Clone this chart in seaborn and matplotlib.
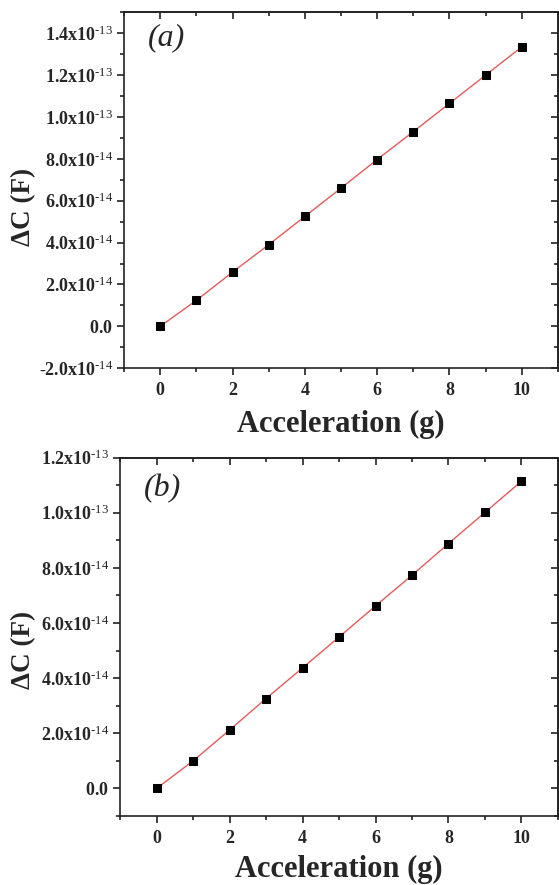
import numpy as np
import pandas as pd
import matplotlib
matplotlib.use("Agg")
import matplotlib.pyplot as plt
import seaborn as sns
from matplotlib.ticker import MultipleLocator, FuncFormatter

# data (capacitance change in units of 1e-14 F)
ACCEL = [0, 1, 2, 3, 4, 5, 6, 7, 8, 9, 10]
DC_A = [0.0, 1.24, 2.59, 3.90, 5.25, 6.60, 7.97, 9.30, 10.65, 12.0, 13.35]
DC_B = [0.0, 1.00, 2.12, 3.26, 4.37, 5.49, 6.62, 7.73, 8.88, 10.01, 11.14]
PANEL_LABELS = ["(a)", "(b)"]

LINE_RED = "#e35b5b"
AXIS_COLOR = "#222222"

sns.set_style("ticks")
plt.rcParams["font.family"] = ["Liberation Serif", "DejaVu Serif"]
plt.rcParams["mathtext.fontset"] = "custom"
plt.rcParams["mathtext.rm"] = "Liberation Serif"
plt.rcParams["mathtext.it"] = "Liberation Serif:italic"
plt.rcParams["mathtext.bf"] = "Liberation Serif:bold"


def sci_label(v, pos):
    if abs(v) < 1e-20:
        return r"$\mathbf{0.0}$"
    exp = int(np.floor(np.log10(abs(v)) + 1e-9))
    mant = v / 10.0 ** exp
    sign = r"\text{-}" if mant < 0 else ""
    return r"$%s\mathbf{%.1fx10}^{\text{-}%d}$" % (sign, abs(mant), abs(exp))


def draw_panel(ax, y, ylim, label, label_y, xlabelpad):
    df = pd.DataFrame({"Acceleration": ACCEL, "dC": np.array(y) * 1e-14})
    sns.lineplot(data=df, x="Acceleration", y="dC", ax=ax, color=LINE_RED,
                 linewidth=1.0, marker="s", markersize=5.5,
                 markerfacecolor="black", markeredgecolor="black")
    ax.set_xlim(-1, 11)
    ax.set_ylim(*ylim)
    ax.xaxis.set_major_locator(MultipleLocator(2))
    ax.xaxis.set_minor_locator(MultipleLocator(1))
    ax.yaxis.set_major_locator(MultipleLocator(2e-14))
    ax.yaxis.set_minor_locator(MultipleLocator(1e-14))
    ax.yaxis.set_major_formatter(FuncFormatter(sci_label))
    ax.tick_params(which="major", length=5, width=1.2, color=AXIS_COLOR)
    ax.tick_params(which="minor", length=3, width=1.2, color=AXIS_COLOR)
    ax.tick_params(axis="y", labelsize=13, pad=3)
    ax.tick_params(axis="x", labelsize=13, pad=5)
    for t in ax.get_xticklabels():
        t.set_fontweight("bold")
    for s in ax.spines.values():
        s.set_visible(True)
        s.set_linewidth(1.2)
        s.set_color(AXIS_COLOR)

    # mirrored ticks pointing inward on top and right
    top = ax.secondary_xaxis("top")
    top.xaxis.set_major_locator(MultipleLocator(2))
    top.xaxis.set_minor_locator(MultipleLocator(1))
    top.tick_params(which="both", direction="in", labeltop=False, width=1.2, color=AXIS_COLOR)
    top.tick_params(which="major", length=5)
    top.tick_params(which="minor", length=3)
    right = ax.secondary_yaxis("right")
    right.yaxis.set_major_locator(MultipleLocator(2e-14))
    right.yaxis.set_minor_locator(MultipleLocator(1e-14))
    right.tick_params(which="both", direction="in", labelright=False, width=1.2, color=AXIS_COLOR)
    right.tick_params(which="major", length=5)
    right.tick_params(which="minor", length=3)
    for sec in (top, right):
        for s in sec.spines.values():
            s.set_linewidth(1.2)
            s.set_color(AXIS_COLOR)

    ax.set_xlabel("Acceleration (g)", fontsize=22, fontweight="bold", labelpad=xlabelpad)
    ax.set_ylabel("ΔC (F)", fontsize=19.5, fontweight="bold", va="center")
    ax.text(0.055, label_y, label, transform=ax.transAxes, fontsize=23,
            fontstyle="italic", va="top", ha="left")


fig = plt.figure(figsize=(5.59, 8.85), dpi=100)
ax_a = fig.add_axes([0.222, 0.584, 0.776, 0.402])
ax_b = fig.add_axes([0.215, 0.078, 0.783, 0.405])

draw_panel(ax_a, DC_A, (-2e-14, 1.5e-13), PANEL_LABELS[0], 0.97, 8)
draw_panel(ax_b, DC_B, (-1e-14, 1.2e-13), PANEL_LABELS[1], 0.955, 6)
# label centre sits at about x = 23 px, a little below the axes middle
ax_a.yaxis.set_label_coords(-0.232, 0.452)
ax_b.yaxis.set_label_coords(-0.22, 0.462)

fig.savefig("out.png", dpi=100)
